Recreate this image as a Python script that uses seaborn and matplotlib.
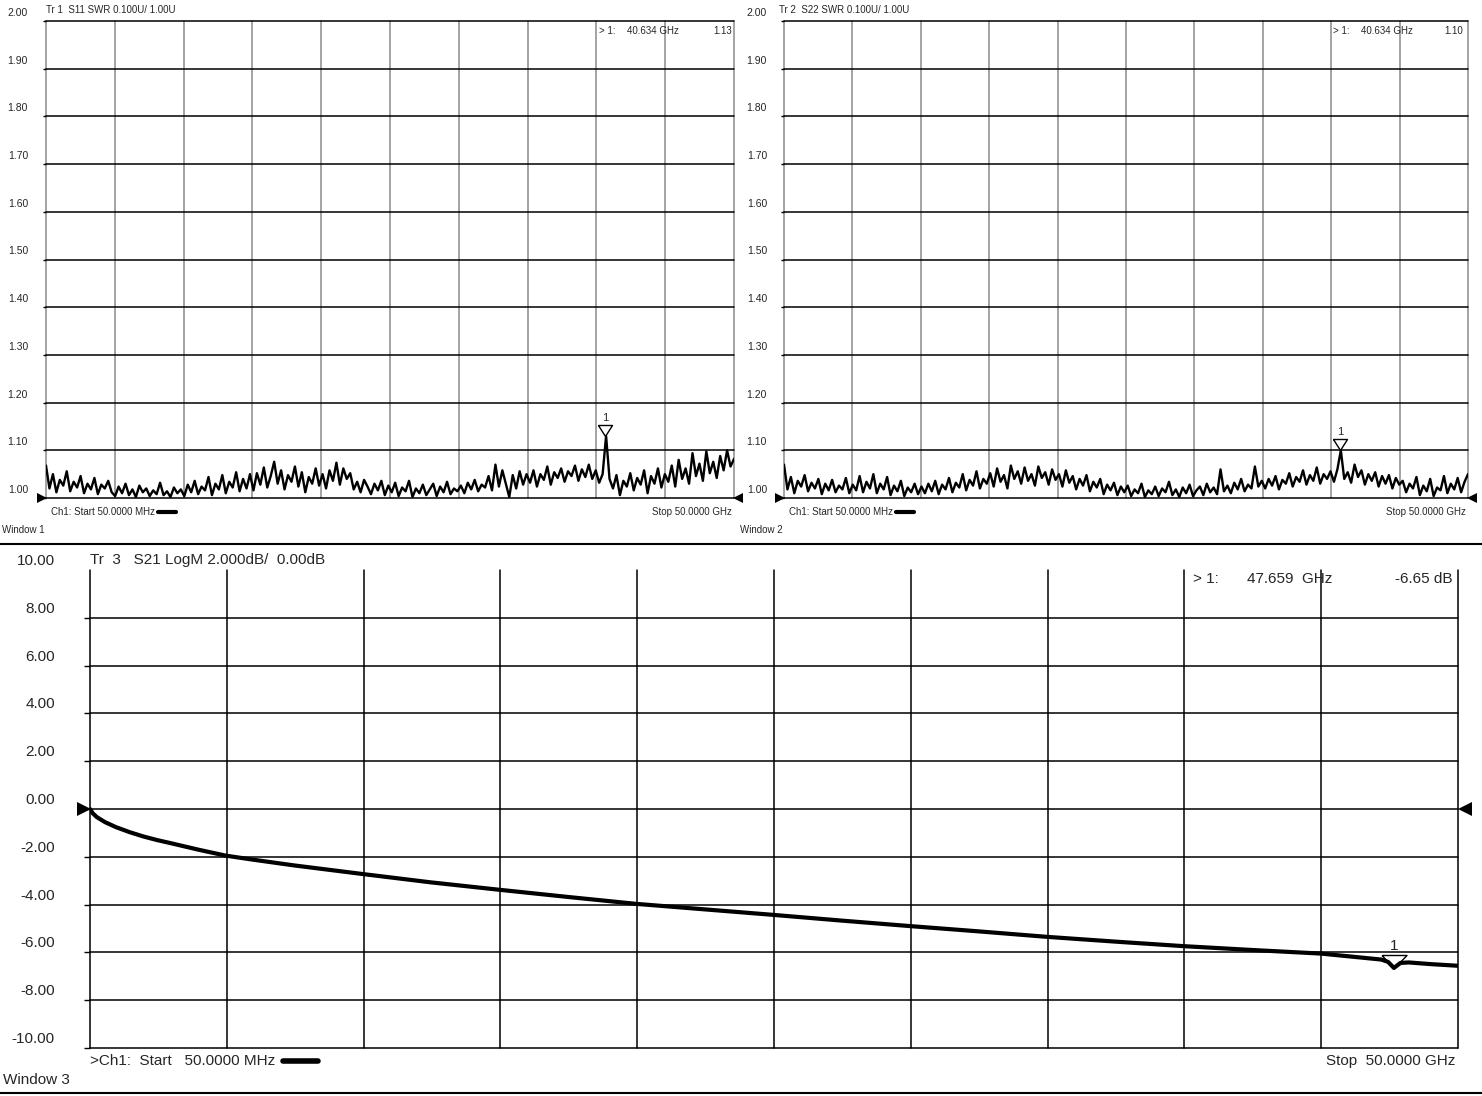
import numpy as np
import matplotlib
matplotlib.use("Agg")
import matplotlib.pyplot as plt
import matplotlib.transforms as mtransforms
from matplotlib.lines import Line2D
import seaborn as sns

W, H = 1482, 1096

s11_swr = [
    1.068, 1.020, 1.050, 1.012, 1.038, 1.026, 1.056, 1.014, 1.034, 1.022, 1.046, 1.010, 1.030, 1.018, 1.042, 1.008, 1.028, 1.020, 1.036, 1.012,
    1.004, 1.024, 1.010, 1.030, 1.006, 1.018, 1.002, 1.026, 1.012, 1.020, 1.004, 1.016, 1.008, 1.032, 1.006, 1.014, 1.002, 1.022, 1.010, 1.018,
    1.004, 1.028, 1.012, 1.036, 1.008, 1.024, 1.016, 1.044, 1.006, 1.030, 1.018, 1.048, 1.010, 1.034, 1.022, 1.054, 1.014, 1.040, 1.020, 1.050,
    1.016, 1.052, 1.028, 1.064, 1.022, 1.046, 1.076, 1.030, 1.058, 1.018, 1.048, 1.034, 1.066, 1.024, 1.054, 1.012, 1.044, 1.030, 1.062, 1.026,
    1.050, 1.020, 1.058, 1.036, 1.074, 1.028, 1.062, 1.040, 1.052, 1.018, 1.034, 1.012, 1.038, 1.024, 1.008, 1.030, 1.016, 1.036, 1.006, 1.026,
    1.012, 1.032, 1.004, 1.022, 1.014, 1.036, 1.002, 1.020, 1.010, 1.028, 1.006, 1.018, 1.030, 1.004, 1.024, 1.012, 1.034, 1.008, 1.020, 1.014,
    1.026, 1.010, 1.032, 1.018, 1.038, 1.014, 1.028, 1.022, 1.046, 1.016, 1.070, 1.024, 1.058, 1.030, 1.002, 1.048, 1.020, 1.056, 1.028, 1.050,
    1.032, 1.058, 1.024, 1.050, 1.038, 1.066, 1.028, 1.054, 1.042, 1.062, 1.034, 1.056, 1.046, 1.068, 1.036, 1.060, 1.044, 1.070, 1.040, 1.058,
    1.032, 1.050, 1.130, 1.040, 1.020, 1.048, 1.006, 1.036, 1.024, 1.052, 1.016, 1.042, 1.028, 1.058, 1.010, 1.046, 1.030, 1.062, 1.022, 1.050,
    1.034, 1.068, 1.024, 1.080, 1.040, 1.062, 1.030, 1.094, 1.046, 1.072, 1.036, 1.098, 1.052, 1.076, 1.042, 1.088, 1.058, 1.100, 1.066, 1.082,
]

s22_swr = [
    1.070, 1.018, 1.044, 1.010, 1.036, 1.024, 1.048, 1.014, 1.032, 1.020, 1.040, 1.008, 1.030, 1.016, 1.038, 1.012, 1.026, 1.018, 1.042, 1.010,
    1.028, 1.016, 1.046, 1.012, 1.034, 1.020, 1.050, 1.010, 1.030, 1.018, 1.044, 1.006, 1.026, 1.014, 1.036, 1.004, 1.022, 1.012, 1.030, 1.008,
    1.024, 1.010, 1.030, 1.014, 1.036, 1.008, 1.028, 1.018, 1.042, 1.012, 1.032, 1.022, 1.050, 1.016, 1.038, 1.026, 1.056, 1.020, 1.040, 1.030,
    1.052, 1.024, 1.062, 1.034, 1.048, 1.020, 1.068, 1.040, 1.056, 1.030, 1.064, 1.036, 1.050, 1.026, 1.066, 1.042, 1.054, 1.028, 1.060, 1.038,
    1.050, 1.024, 1.058, 1.032, 1.046, 1.018, 1.040, 1.026, 1.048, 1.014, 1.034, 1.022, 1.040, 1.008, 1.028, 1.016, 1.032, 1.006, 1.024, 1.012,
    1.026, 1.004, 1.018, 1.010, 1.030, 1.002, 1.016, 1.008, 1.024, 1.004, 1.020, 1.012, 1.034, 1.006, 1.018, 1.002, 1.022, 1.010, 1.028, 1.004,
    1.016, 1.024, 1.006, 1.030, 1.012, 1.022, 1.008, 1.060, 1.014, 1.026, 1.010, 1.032, 1.018, 1.040, 1.014, 1.028, 1.020, 1.066, 1.024, 1.036,
    1.020, 1.040, 1.026, 1.046, 1.018, 1.038, 1.030, 1.052, 1.024, 1.044, 1.034, 1.058, 1.028, 1.048, 1.036, 1.064, 1.030, 1.050, 1.040, 1.056,
    1.034, 1.060, 1.100, 1.040, 1.054, 1.032, 1.070, 1.044, 1.058, 1.028, 1.050, 1.036, 1.054, 1.024, 1.046, 1.030, 1.048, 1.020, 1.042, 1.028,
    1.036, 1.012, 1.030, 1.020, 1.044, 1.006, 1.026, 1.014, 1.040, 1.004, 1.022, 1.016, 1.046, 1.010, 1.030, 1.018, 1.042, 1.012, 1.034, 1.050,
]

swr_ticks = [1.00, 1.10, 1.20, 1.30, 1.40, 1.50, 1.60, 1.70, 1.80, 1.90, 2.00]

s21_freq = [0.05, 0.15, 0.3, 0.6, 1.0, 1.5, 2.0, 2.5, 3.0, 4.0, 5.0, 6.0, 7.5, 10.0, 12.5, 15.0, 17.5, 20.0,
            22.5, 25.0, 27.5, 30.0, 32.5, 35.0, 37.5, 40.0, 42.5, 45.0, 46.5, 47.2, 47.45, 47.66, 47.9, 48.2, 49.0, 50.0]
s21_db = [0.00, -0.18, -0.34, -0.55, -0.76, -0.97, -1.15, -1.30, -1.43, -1.70, -1.95, -2.12, -2.36, -2.72, -3.07, -3.38, -3.68, -3.97,
          -4.20, -4.43, -4.67, -4.90, -5.12, -5.35, -5.55, -5.74, -5.90, -6.05, -6.22, -6.30, -6.40, -6.65, -6.44, -6.42, -6.49, -6.56]

db_ticks = [-10.0, -8.0, -6.0, -4.0, -2.0, 0.0, 2.0, 4.0, 6.0, 8.0, 10.0]

marker_top_ghz = 40.634
s11_marker = 1.13
s22_marker = 1.10
marker_bot_ghz = 47.659
s21_marker = -6.65

freq = np.linspace(0.05, 50.0, len(s11_swr))

sns.set_theme(style="white")
plt.rcParams["font.family"] = ["Liberation Sans", "DejaVu Sans"]
narrow = ["Liberation Sans Narrow", "Liberation Sans", "DejaVu Sans"]
regular = ["Liberation Sans", "DejaVu Sans"]
small = 7

fig = plt.figure(figsize=(W / 100, H / 100), dpi=100)
fig.patch.set_facecolor("white")


def fx(x):
    return x / W


def fy(y):
    return 1 - y / H


ax1 = fig.add_axes([fx(46), fy(498), 688 / W, 477 / H])
ax2 = fig.add_axes([fx(784), fy(498), 684 / W, 477 / H])
ax3 = fig.add_axes([fx(90), fy(1048), 1368 / W, 478 / H])


def style_grid(ax, yticks, vcolor, tick_len, dx, dy, font, size):
    ax.set_facecolor("white")
    ax.set_xlim(0.05, 50.0)
    ax.set_ylim(yticks[0], yticks[-1])
    ax.set_xticks(np.linspace(0.05, 50.0, 11))
    ax.set_yticks(yticks)
    ax.set_xticklabels([])
    ax.set_yticklabels([])
    ax.set_xlabel("")
    ax.set_ylabel("")
    for s in ax.spines.values():
        s.set_visible(False)
    ax.set_axisbelow(True)
    ax.xaxis.grid(True, color=vcolor, lw=1.1)
    ax.yaxis.grid(True, color="black", lw=1.1)
    ax.tick_params(axis="x", length=0)
    ax.tick_params(axis="y", left=True, length=tick_len, width=1, color="black", direction="out")
    for t in ax.xaxis.get_major_ticks() + ax.yaxis.get_major_ticks():
        t.gridline.set_clip_on(False)
    off = mtransforms.ScaledTranslation(dx / 100, dy / 100, fig.dpi_scale_trans)
    for v in yticks:
        ax.text(0, v, f"{v:.2f}", transform=ax.get_yaxis_transform() + off,
                ha="right", va="center", fontsize=size, family=font, clip_on=False)


def ref_arrows(ax, yval, dl, dr, ms):
    offl = mtransforms.ScaledTranslation(dl / 100, 0, fig.dpi_scale_trans)
    offr = mtransforms.ScaledTranslation(dr / 100, 0, fig.dpi_scale_trans)
    ax.plot([0], [yval], marker=">", ms=ms, color="black", mew=0,
            transform=ax.get_yaxis_transform() + offl, clip_on=False)
    ax.plot([1], [yval], marker="<", ms=ms, color="black", mew=0,
            transform=ax.get_yaxis_transform() + offr, clip_on=False)


def marker_tri(ax, f, v, half_w, h, label_dy, font, size):
    verts = [(-half_w, h), (half_w, h), (0, 0), (-half_w, h)]
    ms = 2 * max(half_w, h) * 0.72
    ax.plot([f], [v], marker=verts, ms=ms, mfc="none", mec="black", mew=1, zorder=6, clip_on=False)
    ax.annotate("1", (f, v), xytext=(0, label_dy), textcoords="offset pixels",
                ha="center", va="center", fontsize=size, family=font)


# window 1
sns.lineplot(x=freq, y=s11_swr, ax=ax1, color="black", lw=1.7, estimator=None)
style_grid(ax1, swr_ticks, "#8a8a8a", 2, -18, 8, narrow, 7.5)
ref_arrows(ax1, 1.0, -4, 4, 7)
marker_tri(ax1, marker_top_ghz, s11_marker, 7, 11, 18, narrow, 8)

# window 2
sns.lineplot(x=freq, y=s22_swr, ax=ax2, color="black", lw=1.7, estimator=None)
style_grid(ax2, swr_ticks, "#8a8a8a", 2, -17, 8, narrow, 7.5)
ref_arrows(ax2, 1.0, -4, 4, 7)
marker_tri(ax2, marker_top_ghz, s22_marker, 7, 11, 18, narrow, 8)

# window 3
sns.lineplot(x=s21_freq, y=s21_db, ax=ax3, color="black", lw=3, estimator=None)
style_grid(ax3, db_ticks, "black", 4, -35, 9, regular, 11)
ax3.yaxis.get_major_ticks()[-1].gridline.set_visible(False)
ax3.yaxis.get_major_ticks()[-1].tick1line.set_visible(False)
ref_arrows(ax3, 0.0, -6, 7, 10)
marker_tri(ax3, marker_bot_ghz, s21_marker, 12.5, 13, 22, regular, 11)

for ax in (ax1, ax2, ax3):
    ax.set_xlabel("")
    ax.set_ylabel("")

# marker readouts
for ax, val, xs, yr, font, size, gap in [
    (ax1, f"{s11_marker:.2f}", (0.804, 0.845, 0.997), 0.979, narrow, small, " "),
    (ax2, f"{s22_marker:.2f}", (0.803, 0.844, 0.993), 0.979, narrow, small, " "),
    (ax3, f"{s21_marker:.2f} dB", (0.806, 0.846, 0.996), 0.981, regular, 11, "  "),
]:
    ghz = marker_bot_ghz if ax is ax3 else marker_top_ghz
    ax.text(xs[0], yr, "> 1:", transform=ax.transAxes, ha="left", va="center", fontsize=size, family=font)
    ax.text(xs[1], yr, f"{ghz:.3f}{gap}GHz", transform=ax.transAxes, ha="left", va="center", fontsize=size, family=font)
    ax.text(xs[2], yr, val, transform=ax.transAxes, ha="right", va="center", fontsize=size, family=font)

# headers and footers
fig.text(fx(46), fy(10), "Tr 1  S11 SWR 0.100U/ 1.00U", family=narrow, size=small, va="center")
fig.text(fx(779), fy(10), "Tr 2  S22 SWR 0.100U/ 1.00U", family=narrow, size=small, va="center")
fig.text(fx(51), fy(512), "Ch1: Start 50.0000 MHz", family=narrow, size=small, va="center")
fig.text(fx(789), fy(512), "Ch1: Start 50.0000 MHz", family=narrow, size=small, va="center")
fig.text(fx(732), fy(512), "Stop 50.0000 GHz", family=narrow, size=small, va="center", ha="right")
fig.text(fx(1466), fy(512), "Stop 50.0000 GHz", family=narrow, size=small, va="center", ha="right")
fig.text(fx(2), fy(530), "Window 1", family=narrow, size=small, va="center")
fig.text(fx(740), fy(530), "Window 2", family=narrow, size=small, va="center")

fig.text(fx(90), fy(560), "Tr  3   S21 LogM 2.000dB/  0.00dB", family=regular, size=11, va="center")
fig.text(fx(90), fy(1061), ">Ch1:  Start   50.0000 MHz", family=regular, size=11, va="center")
fig.text(fx(1455), fy(1061), "Stop  50.0000 GHz", family=regular, size=11, va="center", ha="right")
fig.text(fx(3), fy(1080), "Window 3", family=regular, size=11, va="center")

# channel bars and window separators
for x0, x1, y, lw in [(158, 176, 512, 3), (896, 914, 512, 3), (283, 318, 1061, 4)]:
    fig.add_artist(Line2D([fx(x0), fx(x1)], [fy(y), fy(y)], color="black", lw=lw))
for y in (544, 1093):
    fig.add_artist(Line2D([0, 1], [fy(y), fy(y)], color="black", lw=1.5))

fig.savefig("out.png", dpi=100, facecolor="white")
